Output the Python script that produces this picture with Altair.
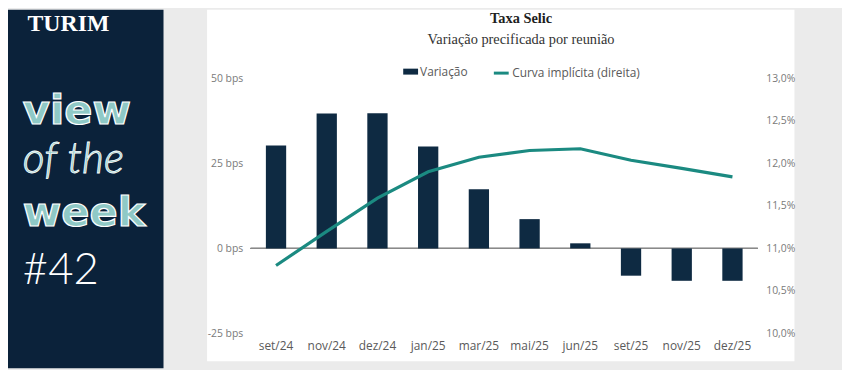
import altair as alt
import pandas as pd

# ---- data ----
meses = ["set/24", "nov/24", "dez/24", "jan/25", "mar/25",
         "mai/25", "jun/25", "set/25", "nov/25", "dez/25"]
variacao = [30.2, 39.6, 39.7, 29.9, 17.4, 8.6, 1.5, -8.0, -9.5, -9.5]
curva = [10.80, 11.20, 11.59, 11.90, 12.07, 12.15, 12.17, 12.035, 11.94, 11.84]
y_left_ticks = [-25, 0, 25, 50]
y_right_ticks = [10.0, 10.5, 11.0, 11.5, 12.0, 12.5, 13.0]

NAVY = "#0e2a42"
TEAL = "#1b8a81"
PANEL = "#0b223a"
LIGHT = "#8fc9c6"
GRAY_BG = "#ebebeb"
LABEL = "#7a7a7a"
FONT = "Open Sans"

df_bar = pd.DataFrame({"mes": meses, "valor": variacao, "serie": "Variação"})
df_line = pd.DataFrame({"mes": meses, "taxa": curva, "serie2": "Curva implícita (direita)"})
one = pd.DataFrame({"k": [0]})

# ---- decoration (plot coordinates: plot area starts at svg x=245, y=69) ----
panel = alt.Chart(one).mark_rect(color=PANEL).encode(
    x=alt.value(-245), x2=alt.value(-88), y=alt.value(-69), y2=alt.value(293))
card = alt.Chart(one).mark_rect(color="white").encode(
    x=alt.value(-44), x2=alt.value(549), y=alt.value(-69), y2=alt.value(286))


def txt(s, x, y, **kw):
    return alt.Chart(one).mark_text(**kw).encode(
        x=alt.value(x), y=alt.value(y), text=alt.value(s))


decor = [
    panel, card,
    txt("TURIM", -184, -55, font="Liberation Serif", fontSize=24, fontWeight="bold",
        color="white", align="center", baseline="middle"),
    txt("view", -230, 46, font="DejaVu Sans", fontSize=42, fontWeight="bold",
        color=LIGHT, stroke="white", strokeWidth=1.2, align="left", baseline="alphabetic"),
    txt("of the", -230, 96, font="Lato", fontSize=43, fontStyle="italic", fontWeight=300,
        color=LIGHT, stroke="white", strokeWidth=0.8, align="left", baseline="alphabetic"),
    txt("week", -230, 149, font="DejaVu Sans", fontSize=42, fontWeight="bold",
        color=LIGHT, stroke="white", strokeWidth=1.2, align="left", baseline="alphabetic"),
    txt("#42", -230, 208, font="Lato", fontSize=44, fontWeight=300,
        color="white", align="left", baseline="alphabetic"),
    txt("Taxa Selic", 273, -60, font="Liberation Serif", fontSize=14.5, fontWeight="bold",
        color="#1e1e1e", align="center", baseline="middle"),
    txt("Variação precificada por reunião", 273, -38, font="Liberation Serif",
        fontSize=14.5, color="#333333", align="center", baseline="middle"),
]

x_enc = alt.X(
    "mes:N", sort=meses,
    scale=alt.Scale(type="band", paddingInner=0.6, paddingOuter=0.3),
    axis=alt.Axis(title=None, labelAngle=0, domain=False, ticks=False, labelPadding=7,
                  labelFont=FONT, labelFontSize=12, labelColor="#5a5a5a", zindex=2))

y_left = alt.Y(
    "valor:Q",
    scale=alt.Scale(domain=[-25, 50], nice=False, zero=False),
    axis=alt.Axis(title=None, values=y_left_ticks, labelExpr="datum.value + ' bps'",
                  domain=False, ticks=False, grid=False, labelPadding=8, zindex=2,
                  labelFont=FONT, labelFontSize=10.5, labelColor=LABEL))

bars = alt.Chart(df_bar).mark_bar().encode(
    x=x_enc,
    y=y_left,
    color=alt.Color("serie:N",
                    scale=alt.Scale(domain=["Variação"], range=[NAVY]),
                    legend=alt.Legend(title=None, orient="none", legendX=154, legendY=-14,
                                      symbolType="M-1,-0.4L1,-0.4L1,0.4L-1,0.4Z",
                                      symbolSize=225, symbolStrokeWidth=0, padding=0,
                                      labelOffset=2, labelFont=FONT, labelFontSize=12,
                                      labelColor="#5a5a5a", zindex=2)))

zero = alt.Chart(df_bar).mark_rule(color="#8a8a8a", strokeWidth=1).encode(
    y=alt.datum(0))

left = alt.layer(zero, bars)

line = alt.Chart(df_line).mark_line(strokeWidth=3.2).encode(
    x=x_enc,
    y=alt.Y("taxa:Q",
            scale=alt.Scale(domain=[10, 13], nice=False, zero=False),
            axis=alt.Axis(title=None, orient="right", values=y_right_ticks,
                          labelExpr="replace(format(datum.value, '.1f'), '.', ',') + '%'",
                          domain=False, ticks=False, grid=False, labelPadding=8, zindex=2,
                          labelFont=FONT, labelFontSize=10.5, labelColor=LABEL)),
    stroke=alt.Stroke("serie2:N",
                      scale=alt.Scale(domain=["Curva implícita (direita)"], range=[TEAL]),
                      legend=alt.Legend(title=None, orient="none", legendX=244, legendY=-14,
                                        symbolType="stroke", symbolSize=225,
                                        symbolStrokeWidth=3, padding=0, labelOffset=2,
                                        labelFont=FONT, labelFontSize=12,
                                        labelColor="#5a5a5a", zindex=2)))

chart = alt.layer(*decor, left, line).resolve_scale(y="independent").properties(
    width=512, height=258,
    autosize=alt.AutoSizeParams(type="none"),
    padding={"left": 245, "top": 69, "right": 85, "bottom": 35},
    background=GRAY_BG,
).configure_view(stroke=None)

chart.save("out.html", embed_options={"renderer": "svg", "actions": False})
